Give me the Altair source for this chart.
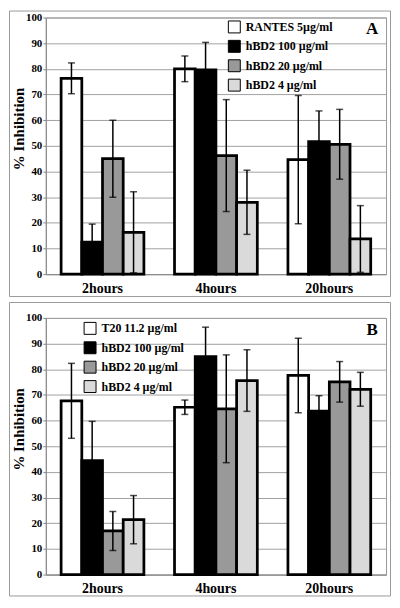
import altair as alt
import pandas as pd

times = ["2hours", "4hours", "20hours"]
series_a = ["RANTES 5µg/ml", "hBD2 100 µg/ml", "hBD2 20 µg/ml", "hBD2 4 µg/ml"]
series_b = ["T20 11.2 µg/ml", "hBD2 100 µg/ml", "hBD2 20 µg/ml", "hBD2 4 µg/ml"]
fills = ["#ffffff", "#000000", "#999999", "#dadada"]

# Panel A: mean % inhibition per time point (series order as in series_a)
a_mean_2h = [76.3, 12.5, 45.0, 16.3]
a_mean_4h = [80.0, 79.6, 46.2, 28.0]
a_mean_20h = [44.6, 51.6, 50.6, 13.7]
a_err_2h = [6.0, 7.0, 15.0, 15.8]
a_err_4h = [5.0, 10.7, 21.8, 12.5]
a_err_20h = [25.0, 12.0, 13.6, 13.0]

# Panel B
b_mean_2h = [67.7, 44.4, 17.0, 21.4]
b_mean_4h = [65.2, 84.9, 64.6, 75.6]
b_mean_20h = [77.6, 63.7, 75.1, 72.2]
b_err_2h = [14.6, 15.3, 7.6, 9.4]
b_err_4h = [2.8, 11.5, 21.0, 12.0]
b_err_20h = [14.5, 6.0, 7.9, 6.6]

SERIF = "'Liberation Serif', 'Times New Roman', Times, serif"
Y_TITLE = "% Inhibition"


def make_df(series, means, errs):
    rows = []
    for t, m_list, e_list in zip(times, means, errs):
        for s, m, e in zip(series, m_list, e_list):
            rows.append({"time": t, "series": s, "mean": m,
                         "lo": max(m - e, 0), "hi": m + e})
    return pd.DataFrame(rows)


df_a = make_df(series_a, [a_mean_2h, a_mean_4h, a_mean_20h],
               [a_err_2h, a_err_4h, a_err_20h])
df_b = make_df(series_b, [b_mean_2h, b_mean_4h, b_mean_20h],
               [b_err_2h, b_err_4h, b_err_20h])

W, H = 342, 258


def panel(df, series, letter, lx, ly, border_top, border_bottom):
    yaxis = alt.Axis(values=list(range(0, 101, 10)), title=None,
                     labelFont=SERIF, labelFontSize=11, labelFontWeight="bold",
                     labelColor="black", labelPadding=1, tickSize=3,
                     tickColor="#888888", domainColor="#888888",
                     gridColor="#a0a0a0", grid=True)
    yscale = alt.Scale(domain=[0, 100], nice=False)
    base = alt.Chart(df).encode(
        x=alt.X("time:N", sort=times, title=None,
                scale=alt.Scale(type="band", paddingInner=0.27, paddingOuter=0.135),
                axis=alt.Axis(labelAngle=0, ticks=False, tickSize=0, grid=False,
                              domainColor="#888888", labelFont=SERIF,
                              labelFontSize=14, labelFontWeight="bold",
                              labelColor="black", labelPadding=7)),
        xOffset=alt.XOffset("series:N", sort=series,
                            scale=alt.Scale(type="band", domain=series,
                                            paddingInner=0, paddingOuter=0)),
    )
    bars = base.mark_bar(stroke="black", strokeWidth=2.75).encode(
        y=alt.Y("mean:Q", scale=yscale, axis=yaxis),
        fill=alt.Fill("series:N", sort=series,
                      scale=alt.Scale(domain=series, range=fills),
                      legend=alt.Legend(title=None, orient="none",
                                        legendX=lx, legendY=ly,
                                        symbolType="square", symbolSize=144,
                                        symbolStrokeColor="black",
                                        symbolStrokeWidth=1,
                                        symbolOpacity=1,
                                        labelFont=SERIF, labelFontSize=12,
                                        labelFontWeight="bold",
                                        labelColor="black", labelOffset=5,
                                        rowPadding=2.5, padding=0)),
    )
    rule = base.mark_rule(color="black", strokeWidth=1.5).encode(
        y=alt.Y("lo:Q", scale=yscale, axis=yaxis), y2="hi:Q")
    cap_hi = base.mark_tick(color="black", thickness=1.5, size=7).encode(
        y=alt.Y("hi:Q", scale=yscale, axis=yaxis))
    cap_lo = base.mark_tick(color="black", thickness=1.5, size=7).encode(
        y=alt.Y("lo:Q", scale=yscale, axis=yaxis))
    letter_txt = alt.Chart(pd.DataFrame({"t": [letter]})).mark_text(
        font=SERIF, fontSize=17, fontWeight="bold", align="center",
        baseline="alphabetic", color="black").encode(
        x=alt.value(328), y=alt.value(17), text="t:N")
    ytitle = alt.Chart(pd.DataFrame({"t": [Y_TITLE]})).mark_text(
        font=SERIF, fontSize=15, fontWeight="bold", align="center",
        baseline="middle", angle=270, color="black").encode(
        x=alt.value(-27), y=alt.value(112), text="t:N")
    border = alt.Chart(pd.DataFrame({"t": [letter]})).mark_rect(
        fill="white", fillOpacity=0, stroke="#999999", strokeWidth=1).encode(
        x=alt.value(-36.5), x2=alt.value(346.5),
        y=alt.value(border_top), y2=alt.value(border_bottom))
    return alt.layer(bars, rule, cap_hi, cap_lo, letter_txt, ytitle,
                     border).properties(width=W, height=H)


pa = panel(df_a, series_a, "A", 183, 3, -6.5, 280.5)
pb = panel(df_b, series_b, "B", 38, 4, -15.5, 279.5)

chart = alt.vconcat(pa, pb, spacing=3).resolve_scale(
    fill="independent", xOffset="independent"
).properties(
    padding=0, background="white"
).configure_view(stroke="#999999", strokeWidth=1)

chart.save("out.html", embed_options={"renderer": "svg", "actions": False})
